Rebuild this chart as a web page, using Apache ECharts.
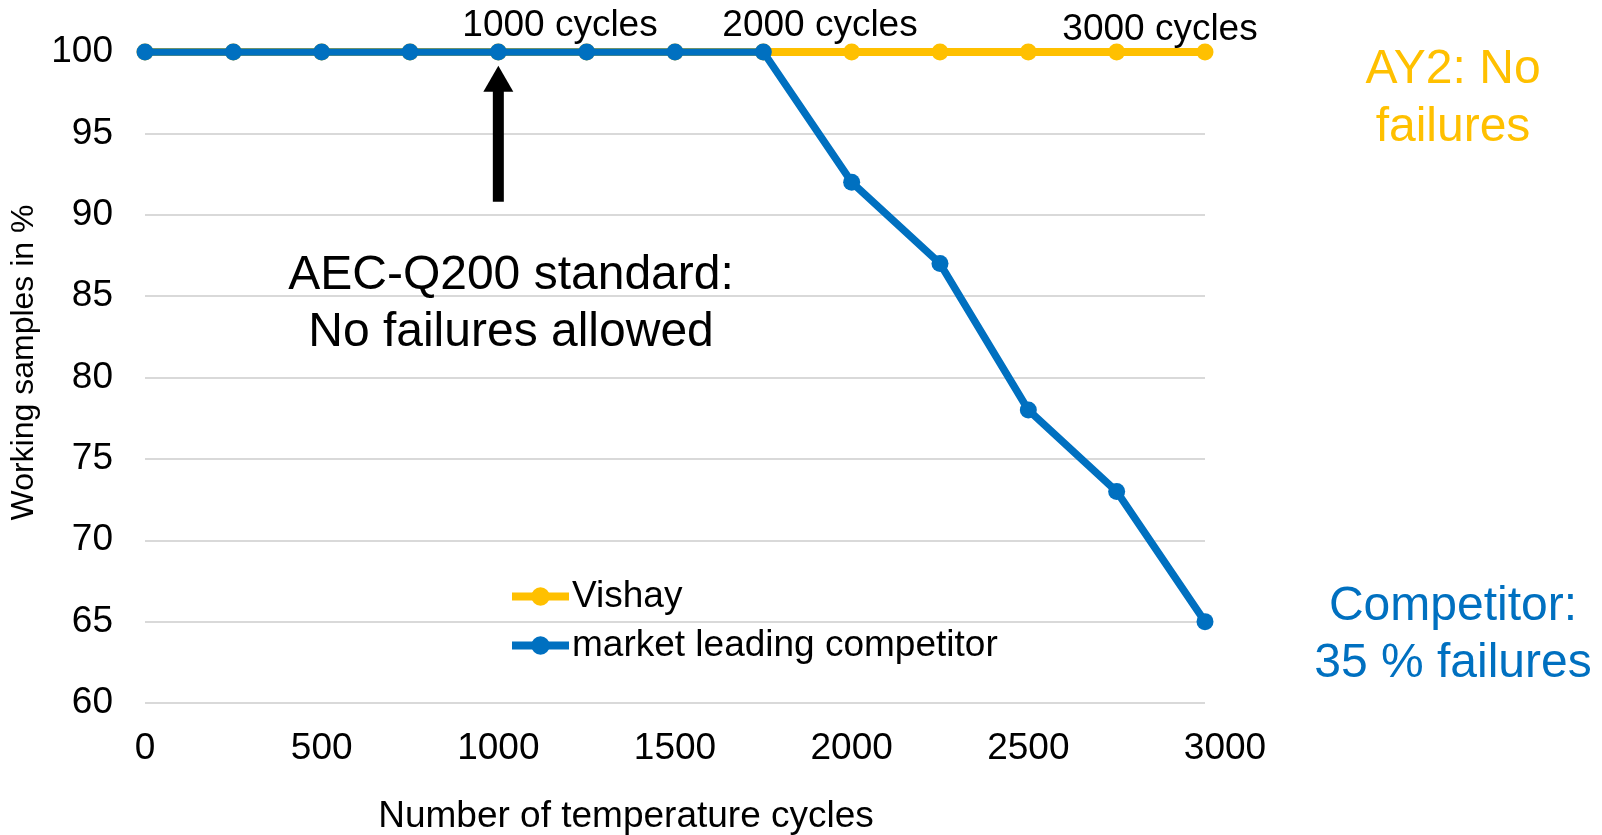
<!DOCTYPE html>
<html>
<head>
<meta charset="utf-8">
<script src="https://cdn.jsdelivr.net/npm/echarts@6/dist/echarts.min.js"></script>
<style>
html,body{margin:0;padding:0;background:#fff;}
#chart{width:1602px;height:835px;}
</style>
</head>
<body>
<div id="chart"></div>
<script>
// ---- data ----
const cycles = [0, 250, 500, 750, 1000, 1250, 1500, 1750, 2000, 2250, 2500, 2750, 3000];
const vishay = [100, 100, 100, 100, 100, 100, 100, 100, 100, 100, 100, 100, 100];
const competitor = [100, 100, 100, 100, 100, 100, 100, 100, 92, 87, 78, 73, 65];
const seriesNames = ['Vishay', 'market leading competitor'];
const cycleLabels = ['1000 cycles', '2000 cycles', '3000 cycles'];
const annotation = ['AEC-Q200 standard:', 'No failures allowed'];
const vishayNote = ['AY2: No', 'failures'];
const competitorNote = ['Competitor:', '35 % failures'];

const FONT = '"Liberation Sans", Arial, Helvetica, sans-serif';
const YELLOW = '#FFC000';
const BLUE = '#0070C0';

const chart = echarts.init(document.getElementById('chart'), null, {renderer: 'canvas'});

const option = {
  animation: false,
  backgroundColor: '#fff',
  textStyle: {fontFamily: FONT},
  grid: {left: 145, right: 397, top: 52, bottom: 132, containLabel: false, outerBoundsMode: 'none'},
  xAxis: {
    type: 'value', min: 0, max: 3000, interval: 500,
    name: 'Number of temperature cycles',
    nameLocation: 'middle', nameGap: 95,
    nameTextStyle: {fontSize: 37, color: '#000', fontFamily: FONT, padding: [0, 98, 0, 0]},
    axisLine: {show: false}, axisTick: {show: false}, splitLine: {show: false},
    axisLabel: {
      fontSize: 37, color: '#000', fontFamily: FONT, margin: 27,
      formatter: function (v) { return v === 3000 ? '{last|' + v + '}' : String(v); },
      rich: {last: {fontSize: 37, color: '#000', fontFamily: FONT, padding: [0, 0, 0, 40]}}
    }
  },
  yAxis: {
    type: 'value', min: 60, max: 100, interval: 5,
    name: 'Working samples in %',
    nameLocation: 'middle', nameGap: 104, nameRotate: 90,
    nameTextStyle: {fontSize: 32, color: '#000', fontFamily: FONT, padding: [0, 0, 0, 30]},
    axisLine: {show: false}, axisTick: {show: false},
    axisLabel: {fontSize: 37, color: '#000', fontFamily: FONT, margin: 32},
    splitLine: {show: true, lineStyle: {color: '#D9D9D9', width: 2}}
  },
  legend: {
    orient: 'vertical', left: 508, top: 576, padding: 0,
    itemWidth: 57, itemHeight: 23, itemGap: 8,
    lineStyle: {width: 8},
    textStyle: {fontSize: 37, color: '#000', fontFamily: FONT, lineHeight: 41, padding: [0, 0, 0, -2]},
    data: seriesNames
  },
  series: [
    {
      name: seriesNames[0], type: 'line',
      data: cycles.map((c, i) => [c, vishay[i]]),
      symbol: 'circle', symbolSize: 17,
      lineStyle: {color: YELLOW, width: 8},
      itemStyle: {color: YELLOW},
      z: 2
    },
    {
      name: seriesNames[1], type: 'line',
      data: cycles.map((c, i) => [c, competitor[i]]),
      symbol: 'circle', symbolSize: 17,
      lineStyle: {color: BLUE, width: 7.5},
      itemStyle: {color: BLUE},
      z: 3
    }
  ]
};
chart.setOption(option);

// annotations anchored to the axes
const arrowBase = chart.convertToPixel({gridIndex: 0}, [1000, 90.8]);
const arrowTip = chart.convertToPixel({gridIndex: 0}, [1000, 99.15]);
const ax = arrowBase[0];
const headH = 26, headW = 30, shaftW = 11;

function txt(text, x, y, size, color, lh) {
  return {
    type: 'text', x: x, y: y, z: 20,
    style: {
      text: text, fontSize: size, fill: color, fontFamily: FONT,
      align: 'center', verticalAlign: 'middle', lineHeight: lh || size * 1.15
    }
  };
}

chart.setOption({
  graphic: [
    {type: 'rect', z: 20, shape: {x: ax - shaftW / 2, y: arrowTip[1] + headH - 1, width: shaftW, height: arrowBase[1] - arrowTip[1] - headH + 1}, style: {fill: '#000'}},
    {type: 'polygon', z: 20, shape: {points: [[ax - headW / 2, arrowTip[1] + headH], [ax + headW / 2, arrowTip[1] + headH], [ax, arrowTip[1]]]}, style: {fill: '#000'}},
    txt(cycleLabels[0], 560, 26, 37, '#000'),
    txt(cycleLabels[1], 820, 26, 37, '#000'),
    txt(cycleLabels[2], 1160, 30, 37, '#000'),
    txt(annotation.join('\n'), 511, 304, 48, '#000', 57),
    txt(vishayNote.join('\n'), 1453, 99, 48, YELLOW, 58),
    txt(competitorNote.join('\n'), 1453, 635, 48, BLUE, 57)
  ]
});
</script>
</body>
</html>
